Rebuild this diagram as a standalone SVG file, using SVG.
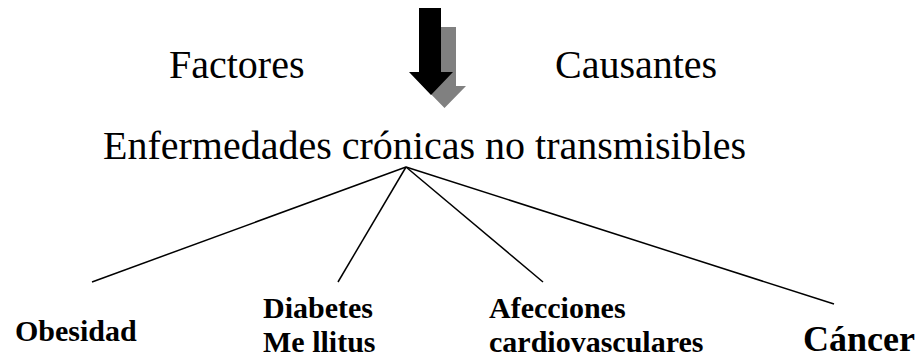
<svg xmlns="http://www.w3.org/2000/svg" width="917" height="358" viewBox="0 0 917 358">
<style>
.t{font-family:"Liberation Serif",Tinos,"Times New Roman",Times,"DejaVu Serif","Noto Serif",serif;fill:#000}
.big{font-size:40px}
.lab{font-size:30px;font-weight:bold}
.conn line{stroke:#000;stroke-width:1.5}
</style>
<rect width="917" height="358" fill="#fff"/>
<g id="arrow">
<polygon points="434,27 456,27 456,86 466,86 444.5,108 423,86 434,86" fill="#808080"/>
<polygon points="419,8 441,8 441,72 453,72 431,95 409,72 419,72" fill="#000"/>
</g>
<g id="factores"><text class="t big" x="169" y="78" font-family="Liberation Serif, DejaVu Serif, serif">Factores</text></g>
<g id="causantes"><text class="t big" x="555" y="78" font-family="Liberation Serif, DejaVu Serif, serif">Causantes</text></g>
<g id="enfermedades"><text class="t big" x="103" y="159" font-family="Liberation Serif, DejaVu Serif, serif">Enfermedades crónicas no transmisibles</text></g>
<g class="conn" id="connectors">
<line x1="406" y1="167" x2="92" y2="282"/>
<line x1="406" y1="167" x2="338" y2="282"/>
<line x1="406" y1="167" x2="543" y2="282"/>
<line x1="406" y1="167" x2="834" y2="304"/>
</g>
<g id="obesidad"><text class="t lab" x="15" y="341">Obesidad</text></g>
<g id="diabetes"><text class="t lab" x="263" y="318">Diabetes<tspan x="263" y="352">Me llitus</tspan></text></g>
<g id="afecciones"><text class="t lab" x="489" y="318">Afecciones<tspan x="489" y="352">cardiovasculares</tspan></text></g>
<g id="cancer"><text class="t lab" x="803" y="351" style="font-size:36px">Cáncer</text></g>
</svg>
